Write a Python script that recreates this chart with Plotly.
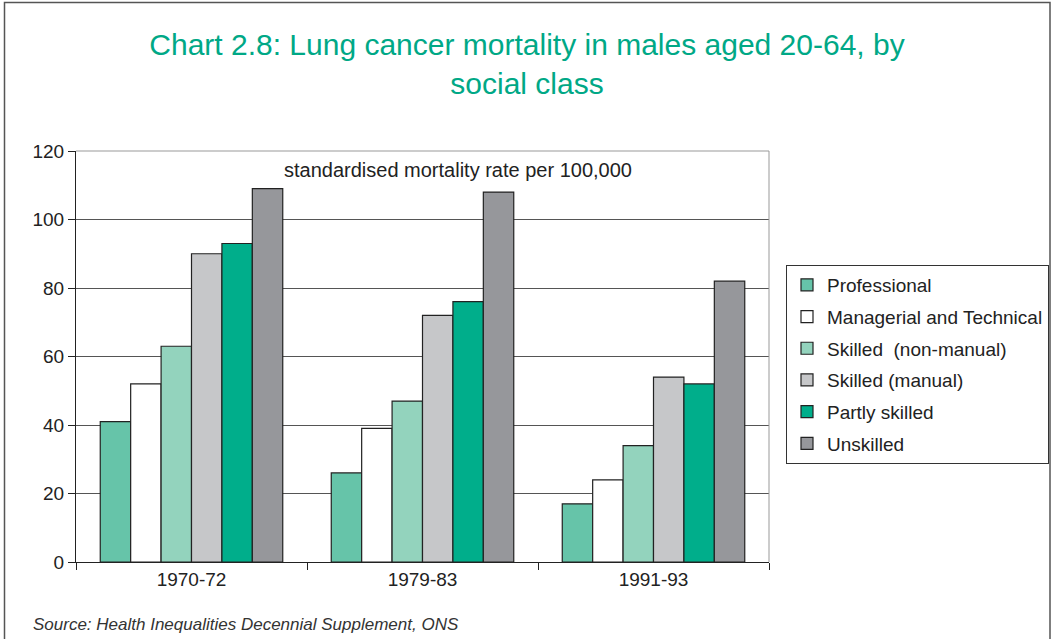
import plotly.graph_objects as go

periods = ["1970-72", "1979-83", "1991-93"]

classes = [
    "Professional",
    "Managerial and Technical",
    "Skilled  (non-manual)",
    "Skilled (manual)",
    "Partly skilled",
    "Unskilled",
]

professional = [41, 26, 17]
managerial = [52, 39, 24]
skilled_nonmanual = [63, 47, 34]
skilled_manual = [90, 72, 54]
partly_skilled = [93, 76, 52]
unskilled = [109, 108, 82]

series_values = [professional, managerial, skilled_nonmanual,
                 skilled_manual, partly_skilled, unskilled]

_COLOURS = ["#66C4A9", "#FFFFFF", "#93D3BD", "#C6C7C9", "#00AE8B", "#96979B"]
_INK = "#222222"
_FONT = "Liberation Sans, Arial, sans-serif"

# plot area in pixels: x 76..769, y 151..562
_L, _R, _T, _B = 76, 769, 151, 562
_W, _H = _R - _L, _B - _T


def px_x(x):
    return (x - _L) / _W


def px_y(y):
    return (_B - y) / _H


fig = go.Figure()
for i, (name, vals) in enumerate(zip(classes, series_values)):
    fig.add_trace(go.Bar(
        x=periods, y=vals, name=name,
        marker=dict(color=_COLOURS[i], line=dict(color=_INK, width=1.2)),
        legendgroup=str(i),
    ))

fig.update_layout(
    width=1052, height=639,
    paper_bgcolor="#FFFFFF", plot_bgcolor="#FFFFFF",
    font=dict(family=_FONT, color=_INK, size=19),
    margin=dict(l=_L, r=1052 - _R, t=_T, b=639 - _B, autoexpand=False),
    barmode="group", bargap=0.21, bargroupgap=0,
    title=dict(
        text="Chart 2.8: Lung cancer mortality in males aged 20-64, by<br>social class",
        x=527 / 1052, xref="container", xanchor="center",
        y=1 - 55 / 639, yref="container", yanchor="middle",
        font=dict(family=_FONT, size=30, color="#00A886"),
    ),
    xaxis=dict(
        showline=True, linecolor=_INK, linewidth=1,
        ticks="outside", tickson="boundaries", ticklen=7, tickcolor=_INK,
        tickfont=dict(size=19), showgrid=False,
    ),
    yaxis=dict(
        range=[0, 120], dtick=20, showline=True, linecolor=_INK, linewidth=1,
        ticks="outside", ticklen=7, tickcolor=_INK,
        gridcolor="#555555", gridwidth=1, zeroline=False,
        tickfont=dict(size=19),
    ),
    legend=dict(
        x=px_x(786), y=px_y(265), xanchor="left", yanchor="top",
        bordercolor="#333333", borderwidth=1, bgcolor="#FFFFFF",
        font=dict(size=19, color=_INK), tracegroupgap=4,
        traceorder="grouped",
    ),
    showlegend=True,
)

fig.add_annotation(
    text="standardised mortality rate per 100,000",
    xref="paper", yref="paper", x=px_x(458), y=px_y(170),
    xanchor="center", yanchor="middle",
    showarrow=False, font=dict(size=20, color=_INK),
)
fig.add_annotation(
    text="<i>Source: Health Inequalities Decennial Supplement, ONS</i>",
    xref="paper", yref="paper", x=px_x(31), y=px_y(624),
    xanchor="left", yanchor="middle",
    showarrow=False, font=dict(size=17, color="#333333"),
)

# light top/right border of the plot area
fig.add_shape(type="line", xref="paper", yref="paper", x0=0, x1=1, y0=1, y1=1,
              line=dict(color="#999999", width=1))
fig.add_shape(type="line", xref="paper", yref="paper", x0=1, x1=1, y0=0, y1=1,
              line=dict(color="#999999", width=1))
# outer frame
fig.add_shape(type="rect", xref="paper", yref="paper",
              x0=px_x(4.5), x1=px_x(1050), y0=px_y(2.5), y1=px_y(660),
              line=dict(color="#555555", width=1.5))

fig.write_html("out.html", config={"displayModeBar": False},
               post_script="document.body.style.margin='0';")
